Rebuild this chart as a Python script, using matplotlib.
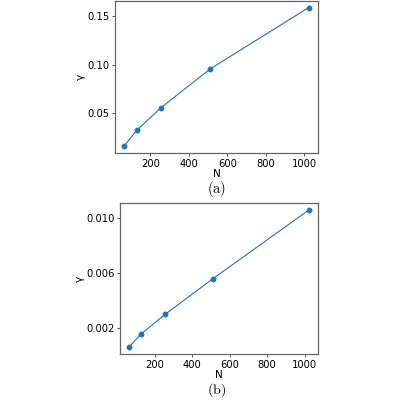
import matplotlib.pyplot as plt
import numpy as np

plt.rcParams['mathtext.fontset'] = 'cm'

# system sizes and fitted gamma values
n_values = [64, 128, 256, 512, 1024]
gamma_a = [0.0163, 0.0323, 0.0558, 0.0956, 0.1585]
gamma_b = [0.00064, 0.00159, 0.00301, 0.00561, 0.0106]
yticks_a = [0.05, 0.10, 0.15]
yticks_b = [0.002, 0.006, 0.010]

fig = plt.figure(figsize=(4, 4), dpi=100)

ax_a = fig.add_axes([0.2875, 0.6175, 0.5075, 0.381])
ax_b = fig.add_axes([0.30, 0.115, 0.495, 0.3775])

for ax, gamma, yticks in [(ax_a, gamma_a, yticks_a), (ax_b, gamma_b, yticks_b)]:
    ax.plot(n_values, gamma, color='tab:blue', marker='o', markersize=3.2, linewidth=0.8)
    ax.set_xticks([200, 400, 600, 800, 1000])
    ax.set_yticks(yticks)
    ax.set_xlabel('N', fontsize=7.5, labelpad=0)
    ax.set_ylabel('γ', fontsize=7.5, labelpad=1)
    ax.tick_params(labelsize=7.2, length=2.5, width=0.7, color='#555555', pad=1.5)
    for spine in ax.spines.values():
        spine.set_color('#666666')
        spine.set_linewidth(0.9)

ax_a.yaxis.set_major_formatter(plt.FormatStrFormatter('%.2f'))
ax_b.yaxis.set_major_formatter(plt.FormatStrFormatter('%.3f'))

fig.text(0.5425, 0.527, r'$\mathrm{(a)}$', ha='center', va='center', fontsize=10.5)
fig.text(0.5425, 0.003, r'$\mathrm{(b)}$', ha='center', va='bottom', fontsize=10)

fig.savefig('out.png', dpi=100)
